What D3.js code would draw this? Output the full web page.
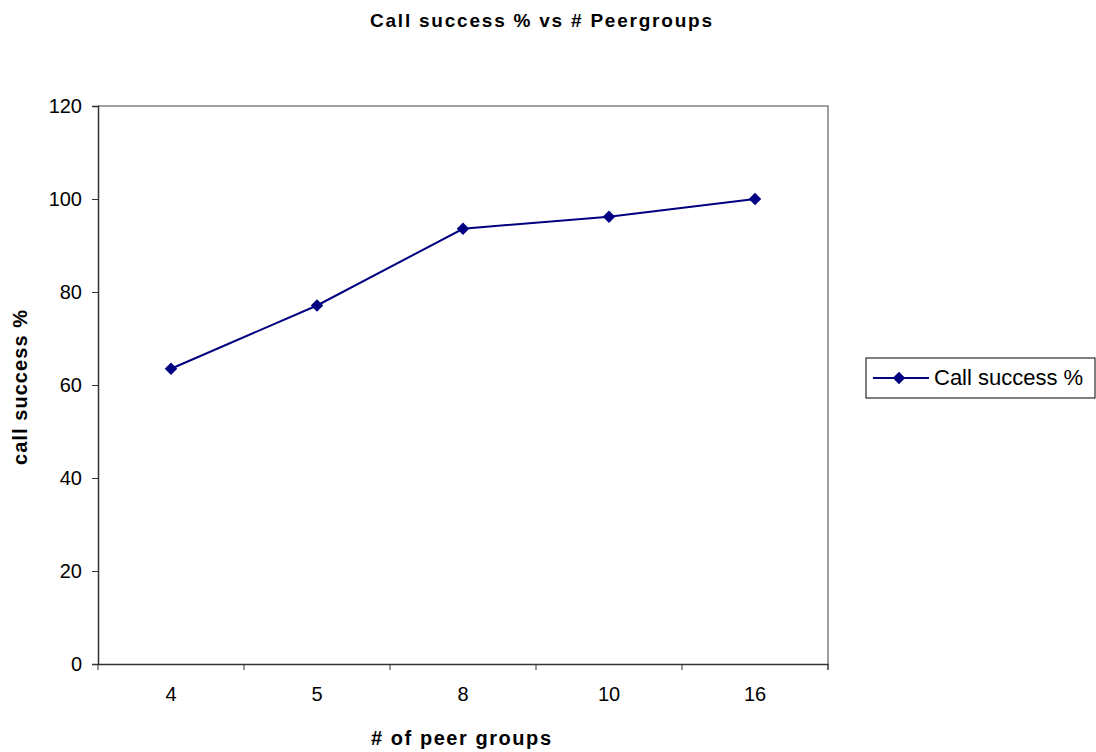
<!DOCTYPE html>
<html>
<head>
<meta charset="utf-8">
<script src="https://cdn.jsdelivr.net/npm/d3@7"></script>
<style>
  html, body { margin: 0; padding: 0; background: #fff; }
  svg { display: block; font-family: "Liberation Sans", Arial, sans-serif; }
</style>
</head>
<body>
<svg id="chart" width="1096" height="752"></svg>
<script>
// Chart data
const categories = ["4", "5", "8", "10", "16"];
const successPct = [63.5, 77.1, 93.6, 96.2, 100];
const yTicks = [0, 20, 40, 60, 80, 100, 120];
const seriesName = "Call success %";

const svg = d3.select("#chart");
const plot = { left: 98, top: 106, right: 828, bottom: 664 };
const navy = "#000080";
const axisColor = "#333";
const fontFam = "Liberation Sans, Arial, sans-serif";

const x = d3.scaleBand().domain(categories).range([plot.left, plot.right]);
const y = d3.scaleLinear().domain([0, 120]).range([plot.bottom, plot.top]);

// Title
svg.append("text")
  .attr("x", 370).attr("y", 27)
  .attr("font-size", 19).attr("font-weight", "bold")
  .attr("textLength", 342).attr("lengthAdjust", "spacing")
  .text("Call success % vs # Peergroups");

// Plot frame: top and right edges in grey
svg.append("path")
  .attr("d", `M${plot.left},${plot.top}H${plot.right}V${plot.bottom + 6}`)
  .attr("fill", "none").attr("stroke", "#808080").attr("stroke-width", 1.5);

// Y axis
const yAxis = svg.append("g")
  .attr("transform", `translate(${plot.left},0)`)
  .call(d3.axisLeft(y).tickValues(yTicks).tickSize(6).tickPadding(10));
yAxis.select(".domain").attr("stroke", axisColor).attr("stroke-width", 1.5);
yAxis.selectAll(".tick line").attr("stroke", axisColor);
yAxis.selectAll("text").attr("font-size", 20).attr("fill", "#000")
  .attr("font-family", fontFam);

// X axis: labels centred in each category, ticks at category boundaries
const xAxis = svg.append("g")
  .attr("transform", `translate(0,${plot.bottom})`)
  .call(d3.axisBottom(x).tickSize(0).tickPadding(23));
xAxis.select(".domain").attr("stroke", axisColor).attr("stroke-width", 1.5);
xAxis.selectAll("text").attr("font-size", 20).attr("fill", "#000")
  .attr("font-family", fontFam);
xAxis.selectAll(".boundary")
  .data(d3.range(categories.length + 1))
  .enter().append("line")
  .attr("x1", i => plot.left + i * x.bandwidth())
  .attr("x2", i => plot.left + i * x.bandwidth())
  .attr("y1", 0).attr("y2", 6)
  .attr("stroke", axisColor);

// Axis titles
svg.append("text")
  .attr("x", 371).attr("y", 745)
  .attr("font-size", 20).attr("font-weight", "bold")
  .attr("textLength", 180).attr("lengthAdjust", "spacing")
  .text("# of peer groups");
svg.append("text")
  .attr("transform", "translate(27,465) rotate(-90)")
  .attr("font-size", 20).attr("font-weight", "bold")
  .attr("textLength", 155).attr("lengthAdjust", "spacing")
  .text("call success %");

// Series line
const cx = d => x(d.cat) + x.bandwidth() / 2;
const pts = categories.map((c, i) => ({ cat: c, v: successPct[i] }));
svg.append("path")
  .datum(pts)
  .attr("fill", "none").attr("stroke", navy).attr("stroke-width", 2)
  .attr("d", d3.line().x(cx).y(d => y(d.v)));

const diamond = d3.symbol().type(d3.symbolDiamond2).size(100);
svg.selectAll(".pt").data(pts).enter().append("path")
  .attr("transform", d => `translate(${cx(d)},${y(d.v)})`)
  .attr("d", diamond)
  .attr("fill", navy);

// Legend
const lg = svg.append("g").attr("transform", "translate(866,358)");
lg.append("rect").attr("width", 229).attr("height", 40)
  .attr("fill", "#fff").attr("stroke", "#000").attr("stroke-width", 1);
lg.append("line").attr("x1", 7).attr("x2", 63).attr("y1", 20).attr("y2", 20)
  .attr("stroke", navy).attr("stroke-width", 2);
lg.append("path").attr("transform", "translate(33,20)").attr("d", diamond).attr("fill", navy);
lg.append("text").attr("x", 68).attr("y", 27)
  .attr("font-size", 22).text(seriesName);
</script>
</body>
</html>
